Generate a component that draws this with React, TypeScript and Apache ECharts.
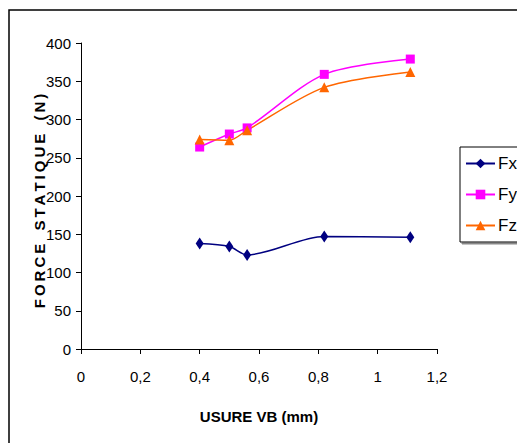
import React, { useEffect, useRef } from "react";
import * as echarts from "echarts";

// Tool wear VB (mm) for each measurement
const wear = [0.4, 0.5, 0.56, 0.82, 1.11];
// Static cutting force components (N)
const fx = [138, 134, 123, 147, 146];
const fy = [264, 281, 289, 359, 379];
const fz = [274, 273, 286, 342, 362];

const seriesNames = ["Fx", "Fy", "Fz"];
const seriesColors = ["#000080", "#FF00FF", "#FF6600"];

const FONT = "'Liberation Sans Narrow', 'Arial Narrow', 'Liberation Sans', Arial, sans-serif";
const BOLD_FONT = "'Liberation Sans', Arial, sans-serif";

// Spread the letters of the vertical axis title apart with thin spaces
const spaced = (s: string) =>
  s
    .split(" ")
    .map((w) => w.split("").join("\u2009"))
    .join("\u2009\u2009 \u2009");

function pairs(values: number[]) {
  return wear.map((x, i) => [x, values[i]]);
}

export default function App() {
  const ref = useRef<HTMLDivElement>(null);

  useEffect(() => {
    if (!ref.current) return;
    const chart = echarts.init(ref.current, undefined, { renderer: "svg" });
    const axisLine = { show: true, lineStyle: { color: "#000", width: 1 } };
    const axisTick = { show: true, length: 5, lineStyle: { color: "#000", width: 1 } };

    chart.setOption({
      animation: false,
      backgroundColor: "#fff",
      graphic: [
        {
          type: "rect",
          shape: { x: 9, y: 10, width: 700, height: 700 },
          style: { fill: "none", stroke: "#000", lineWidth: 1.5 },
          z: 0,
        },
        {
          // vertical title of the force axis
          type: "text",
          x: 39,
          y: 201,
          rotation: Math.PI / 2,
          style: {
            text: spaced("FORCE STATIQUE (N)"),
            fontFamily: BOLD_FONT,
            fontWeight: "bold",
            fontSize: 15,
            fill: "#000",
            align: "center",
            verticalAlign: "middle",
          },
        },
      ],
      grid: { left: 81, top: 43, width: 356, height: 306 },
      xAxis: {
        type: "value",
        min: 0,
        max: 1.2,
        interval: 0.2,
        name: "USURE VB (mm)",
        nameLocation: "middle",
        nameGap: 60,
        nameMoveOverlap: false,
        nameTextStyle: { fontFamily: BOLD_FONT, fontWeight: "bold", fontSize: 15, color: "#000" },
        axisLine,
        axisTick,
        splitLine: { show: false },
        axisLabel: {
          margin: 20,
          fontFamily: FONT,
          fontSize: 15,
          color: "#000",
          formatter: (v: number) => String(+v.toFixed(1)).replace(".", ","),
        },
      },
      yAxis: {
        type: "value",
        min: 0,
        max: 400,
        interval: 50,
        axisLine,
        axisTick,
        splitLine: { show: false },
        axisLabel: { margin: 10, fontFamily: FONT, fontSize: 15, color: "#000" },
      },
      legend: {
        orient: "vertical",
        left: 460,
        top: 147,
        padding: [8, 6, 8, 5],
        itemWidth: 29,
        itemHeight: 12,
        itemGap: 14,
        borderColor: "#000",
        borderWidth: 1,
        backgroundColor: "#fff",
        shadowColor: "#888",
        shadowOffsetX: 2,
        shadowOffsetY: 2,
        textStyle: { fontFamily: FONT, fontSize: 17, color: "#000", padding: [0, 0, 0, -2] },
        data: seriesNames,
      },
      series: [
        {
          name: seriesNames[0],
          type: "line",
          smooth: 0.3,
          data: pairs(fx),
          symbol: "diamond",
          symbolSize: [8, 12],
          lineStyle: { color: seriesColors[0], width: 1.5 },
          itemStyle: { color: seriesColors[0] },
        },
        {
          name: seriesNames[1],
          type: "line",
          smooth: 0.3,
          data: pairs(fy),
          symbol: "rect",
          symbolSize: 9,
          lineStyle: { color: seriesColors[1], width: 1.5 },
          itemStyle: { color: seriesColors[1] },
        },
        {
          name: seriesNames[2],
          type: "line",
          smooth: 0.3,
          data: pairs(fz),
          symbol: "triangle",
          symbolSize: 10,
          lineStyle: { color: seriesColors[2], width: 1.5 },
          itemStyle: { color: seriesColors[2] },
        },
      ],
    });
    return () => chart.dispose();
  }, []);

  return (
    <div
      ref={ref}
      style={{ position: "fixed", left: 0, top: 0, width: 517, height: 443 }}
    />
  );
}
